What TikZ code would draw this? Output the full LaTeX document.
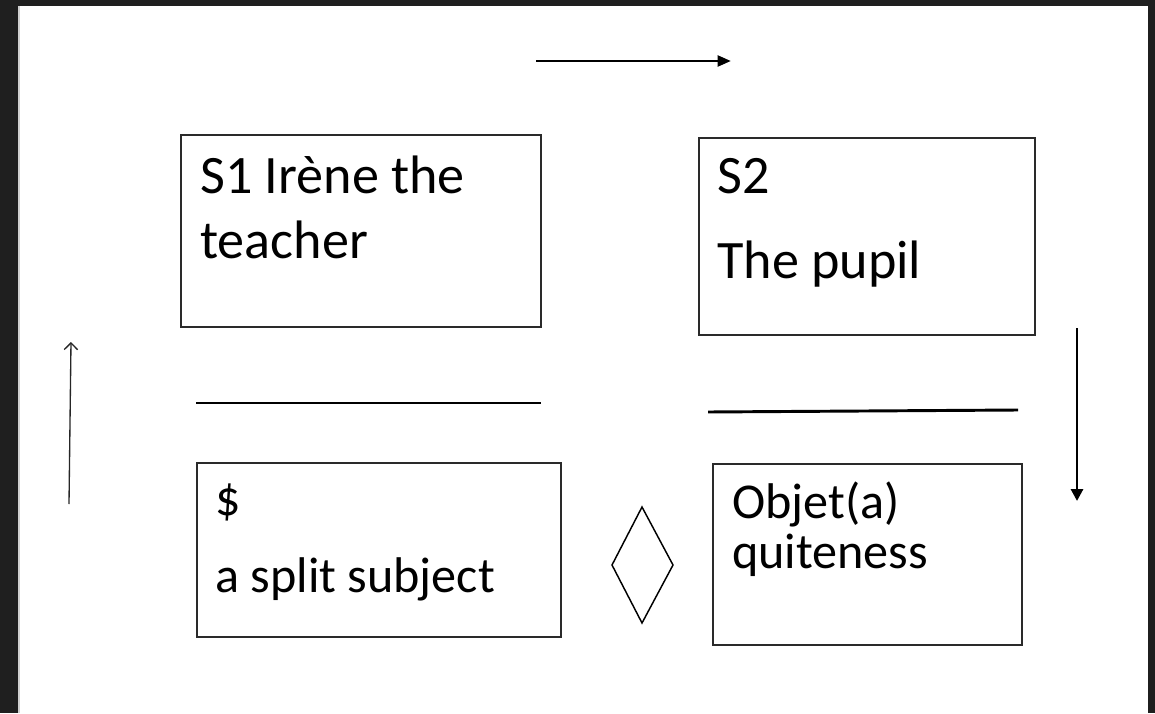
\documentclass[tikz,border=0pt]{standalone}
\usepackage{fontspec}
\setmainfont{Carlito}
\usetikzlibrary{arrows.meta,fit}
\definecolor{frame}{HTML}{1F1F1F}
\definecolor{edge}{HTML}{D0D0D0}
\definecolor{boxline}{HTML}{2A2A2A}
\tikzset{
  box/.style={draw=boxline, line width=1.2pt, inner sep=0pt},
  bigtxt/.style={anchor=base west, inner sep=0pt, font=\fontsize{40.6}{48}\selectfont},
  smalltxt/.style={anchor=base west, inner sep=0pt, font=\fontsize{37.6}{45}\selectfont},
  barline/.style={line width=2.2pt, black},
}
\begin{document}
\begin{tikzpicture}[x=0.75pt, y=-0.75pt]
\useasboundingbox (0,0) rectangle (1155,713);
\fill[frame] (0,0) rectangle (1155,713);
\fill[white] (18,6) rectangle (1148,713);
\fill[edge] (18,6) rectangle (20,713);

% boxes
\node[box, fit={(181,135) (541,327)}] (s1) {};
\node[box, fit={(699,138) (1035,335)}] (s2) {};
\node[box, fit={(197,463) (561,637)}] (subj) {};
\node[box, fit={(713,464) (1022,645)}] (obj) {};

% texts
\node[bigtxt] (s1a) at (200,193) {S1 Irène the};
\node[bigtxt] (s1b) at (200,258) {teacher};
\node[bigtxt] (s2a) at (717,193) {S2};
\node[bigtxt] (s2b) at (717,278) {The pupil};
\node[smalltxt] (suba) at (215,515) {\$};
\node[smalltxt] (subb) at (215,592) {a split subject};
\node[smalltxt] (obja) at (732,518) {Objet(a)};
\node[smalltxt] (objb) at (732,568) {quiteness};

% bars
\coordinate (b1l) at (196,403); \coordinate (b1r) at (541,403);
\coordinate (b2l) at (708,412); \coordinate (b2r) at (1018,410);
\draw[barline] (b1l) -- (b1r);
\draw[barline] (b2l) -- (b2r);

% arrows
\coordinate (ta) at (536,61); \coordinate (tb) at (731,61);
\draw[line width=2.2pt, -{Triangle[length=10pt,width=8pt]}] (ta) -- (tb);
\coordinate (ra) at (1077,328); \coordinate (rb) at (1077,501);
\draw[line width=2.2pt, -{Triangle[length=9pt,width=9pt]}] (ra) -- (rb);
\coordinate (la) at (69,504); \coordinate (lb) at (71,342);
\draw[line width=1pt, draw=black!85, -{Straight Barb[length=5pt,width=10pt]}] (la) -- (lb);

% diamond
\coordinate (dt) at (642,507); \coordinate (dr) at (673,565);
\coordinate (db) at (642,623); \coordinate (dl) at (612,565);
\draw[line width=1.1pt, line join=miter] (dt) -- (dr) -- (db) -- (dl) -- cycle;
\end{tikzpicture}
\end{document}
